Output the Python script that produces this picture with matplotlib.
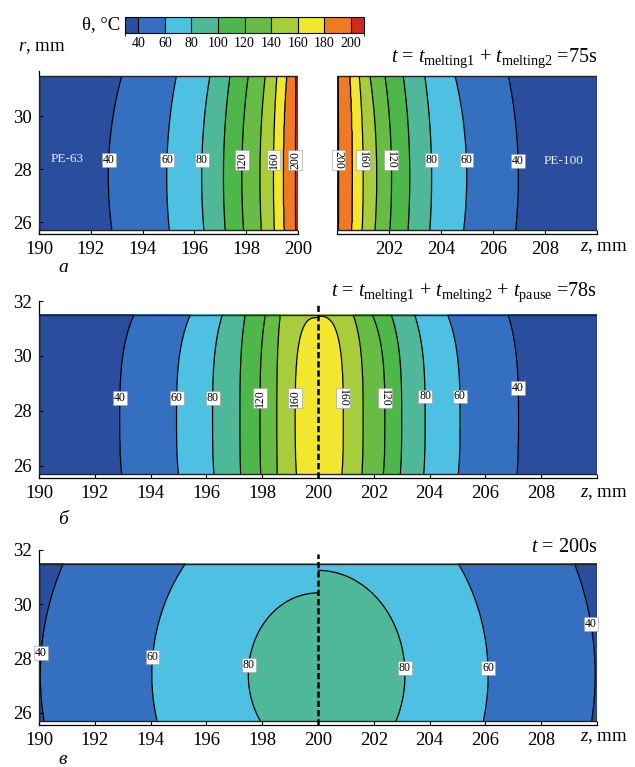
import numpy as np
import matplotlib.pyplot as plt
from matplotlib.colors import ListedColormap, BoundaryNorm
from matplotlib.patches import Rectangle
import matplotlib as mpl

plt.rcParams['font.family'] = ['Liberation Serif', 'DejaVu Serif']
plt.rcParams['mathtext.fontset'] = 'custom'
plt.rcParams['mathtext.rm'] = 'Liberation Serif'
plt.rcParams['mathtext.it'] = 'Liberation Serif:italic'

# isotherm levels (deg C) and fill colours of the bands between them
levels = [40, 60, 80, 100, 120, 140, 160, 180, 200]
band_edges = [0, 40, 60, 80, 100, 120, 140, 160, 180, 200, 400]
band_colors = ['#2b4d9e', '#3570c0', '#4ec0e2', '#4fb898', '#4db74a',
               '#66bc44', '#a8cd3c', '#f3e62e', '#ee7a23', '#cf2a1e']
cbar_edges = [30, 40, 60, 80, 100, 120, 140, 160, 180, 200, 210]

R_LO, R_HI = 25.7, 31.5   # pipe wall extent, mm
Z_WELD = 200.0            # weld plane, mm

# (a) t = 75 s : isotherm z at r0, and r where each isotherm would meet the weld plane
a_lv = [40, 60, 80, 100, 120, 140, 160, 180, 200]
a_left_z = [192.68, 194.93, 196.28, 197.12, 197.83, 198.53, 199.05, 199.43, 199.90]
a_left_apex = [38.0, 37.8, 37.1, 37.0, 35.9, 35.2, 35.2, 33.7, 34.0]
a_right_z = [206.97, 204.99, 203.64, 202.80, 202.10, 201.53, 201.01, 200.60, 200.06]
a_right_apex = [39.4, 36.9, 37.9, 36.9, 35.7, 34.5, 34.9, 34.6, 34.0]
a_r0, a_p = 27.7, 2.0

# (b) t = 78 s
b_lv = [40, 60, 80, 100, 120, 140, 160]
b_left_z = [192.90, 194.93, 196.22, 197.20, 197.92, 198.52, 199.18]
b_left_apex = [34.2, 33.6, 33.7, 34.3, 33.7, 33.9, 31.4]
b_right_z = [207.18, 205.09, 203.84, 203.00, 202.40, 201.62, 200.91]
b_right_apex = [34.9, 33.8, 33.6, 33.2, 32.6, 32.4, 31.45]
b_r0, b_p = 27.7, 3.0

# (c) t = 200 s
c_lv = [40, 60, 80]
c_left_z = [190.05, 194.04, 197.50]
c_left_apex = [37.7, 34.2, 30.42]
c_right_z = [209.93, 206.10, 203.12]
c_right_apex = [38.2, 34.65, 31.25]
c_r0, c_p = 27.4, 2.0

# contour labels: (level, r of label, side)
a_labels = [(40, 28.35, -1), (60, 28.35, -1), (80, 28.35, -1), (120, 28.35, -1),
            (160, 28.35, -1), (200, 28.35, -1),
            (200, 28.35, 1), (160, 28.35, 1), (120, 28.35, 1), (80, 28.35, 1),
            (60, 28.35, 1), (40, 28.3, 1)]
b_labels = [(40, 28.47, -1), (60, 28.47, -1), (80, 28.47, -1), (120, 28.47, -1),
            (160, 28.47, -1), (160, 28.47, 1), (120, 28.47, 1), (80, 28.52, 1),
            (60, 28.52, 1), (40, 28.84, 1)]
c_labels = [(40, 28.2, -1), (60, 28.07, -1), (80, 27.77, -1),
            (80, 27.64, 1), (60, 27.64, 1), (40, 29.26, 1)]
rotated = {120, 140, 160, 180, 200}


def iso_field(z, r, z_iso, r_apex, lv, r0, p):
    dz = np.abs(z - Z_WELD)
    dr = np.abs(r - r0)
    u = []
    for zk, ak in zip(z_iso, r_apex):
        u.append(((dz / abs(zk - Z_WELD)) ** p + (dr / (ak - r0)) ** p) ** (1.0 / p))
    T = lv[0] - 10.0 * (u[0] - 1.0)
    for k in range(len(lv) - 1):
        inside = (u[k] <= 1) & (u[k + 1] > 1)
        w = (1 - u[k]) / ((1 - u[k]) + (u[k + 1] - 1))
        T = np.where(inside, lv[k] + (lv[k + 1] - lv[k]) * w, T)
    T = np.where(u[-1] <= 1, lv[-1] + 19.0 * (1 - u[-1]), T)
    return T


def iso_z(level, r, z_iso, r_apex, lv, r0, p):
    k = lv.index(level)
    half_w = abs(z_iso[k] - Z_WELD)
    q = max(0.0, 1 - (abs(r - r0) / (r_apex[k] - r0)) ** p)
    return Z_WELD + np.sign(z_iso[k] - Z_WELD) * half_w * q ** (1.0 / p)


def draw_half(ax, side, z_iso, r_apex, lv, r0, p):
    z0, z1 = (190.0, Z_WELD) if side < 0 else (Z_WELD, 210.0)
    z = np.linspace(z0, z1, 500)
    r = np.linspace(R_LO, R_HI, 300)
    Z, R = np.meshgrid(z, r)
    T = iso_field(Z, R, z_iso, r_apex, lv, r0, p)
    ax.contourf(Z, R, T, levels=band_edges, colors=band_colors)
    ax.contour(Z, R, T, levels=levels, colors='k', linewidths=0.9)


def put_labels(ax, labels, halves, lv, r0, p):
    for level, r, side in labels:
        z_iso, r_apex = halves[side]
        z = iso_z(level, r, z_iso, r_apex, lv, r0, p)
        rot = 0
        if level in rotated:
            rot = 90 if side < 0 else -90
        ax.text(z, r, str(level), fontsize=8.5, ha='center', va='center', rotation=rot,
                bbox=dict(fc='white', ec='#999999', lw=0.4, pad=0.7))


def style_axes(ax, xlim, ylim, xticks, yticks, show_y=True):
    ax.set_xlim(*xlim)
    ax.set_ylim(*ylim)
    ax.set_xticks(xticks)
    ax.set_xticklabels([str(t) if t != 210 and not (not show_y and t == 200) else '' for t in xticks])
    for s in ['top', 'right']:
        ax.spines[s].set_visible(False)
    ax.spines['bottom'].set_linewidth(0.9)
    ax.spines['left'].set_linewidth(0.9)
    if show_y:
        ax.set_yticks(yticks)
    else:
        ax.spines['left'].set_visible(False)
        ax.set_yticks([])
    ax.tick_params(direction='in', length=3, labelsize=13.5, pad=5)
    ax.add_patch(Rectangle((max(xlim[0], 190), R_LO), xlim[1] - xlim[0], R_HI - R_LO,
                           fill=False, ec='#222222', lw=1.0, zorder=3))


W, H = 635, 767
fig = plt.figure(figsize=(W / 100, H / 100), dpi=100)


def add_ax(x0, x1, ytop, ybot):
    return fig.add_axes([x0 / W, 1 - ybot / H, (x1 - x0) / W, (ybot - ytop) / H])


# ---- panel a: two separate halves ----
axL = add_ax(39, 298, 71, 234)
draw_half(axL, -1, a_left_z, a_left_apex, a_lv, a_r0, a_p)
style_axes(axL, (190, 200), (25.55, 31.7), np.arange(190, 201, 2), [26, 28, 30])
put_labels(axL, [l for l in a_labels if l[2] < 0],
           {-1: (a_left_z, a_left_apex)}, a_lv, a_r0, a_p)
axL.text(191.1, 28.38, 'PE-63', color='#e8ecf5', fontsize=9.5, ha='center', va='center')

axR = add_ax(337, 597, 71, 234)
draw_half(axR, 1, a_right_z, a_right_apex, a_lv, a_r0, a_p)
style_axes(axR, (200, 210), (25.55, 31.7), np.arange(200, 211, 2), [], show_y=False)
put_labels(axR, [l for l in a_labels if l[2] > 0],
           {1: (a_right_z, a_right_apex)}, a_lv, a_r0, a_p)
axR.text(208.7, 28.3, 'PE-100', color='#e8ecf5', fontsize=9.5, ha='center', va='center')

# ---- panel b ----
axB = add_ax(39, 597, 301, 478)
draw_half(axB, -1, b_left_z, b_left_apex, b_lv, b_r0, b_p)
draw_half(axB, 1, b_right_z, b_right_apex, b_lv, b_r0, b_p)
style_axes(axB, (190, 210), (25.55, 32), np.arange(190, 211, 2), [26, 28, 30, 32])
axB.plot([Z_WELD, Z_WELD], [25.55, 31.85], color='k', lw=1.8, ls=(0, (2.5, 1.2)), zorder=4)
put_labels(axB, b_labels, {-1: (b_left_z, b_left_apex), 1: (b_right_z, b_right_apex)},
           b_lv, b_r0, b_p)

# ---- panel c ----
axC = add_ax(39, 597, 550, 725)
draw_half(axC, -1, c_left_z, c_left_apex, c_lv, c_r0, c_p)
draw_half(axC, 1, c_right_z, c_right_apex, c_lv, c_r0, c_p)
style_axes(axC, (190, 210), (25.55, 32), np.arange(190, 211, 2), [26, 28, 30, 32])
axC.plot([Z_WELD, Z_WELD], [25.55, 31.85], color='k', lw=1.8, ls=(0, (2.5, 1.2)), zorder=4)
put_labels(axC, c_labels, {-1: (c_left_z, c_left_apex), 1: (c_right_z, c_right_apex)},
           c_lv, c_r0, c_p)

# ---- colour bar ----
cax = fig.add_axes([125 / W, 1 - 33 / H, 239 / W, 16 / H])
cmap = ListedColormap(band_colors)
norm = BoundaryNorm(cbar_edges, cmap.N)
cb = mpl.colorbar.ColorbarBase(cax, cmap=cmap, norm=norm, boundaries=cbar_edges,
                               spacing='proportional', orientation='horizontal',
                               drawedges=True, ticks=levels)
cb.outline.set_linewidth(0.8)
cb.dividers.set_linewidth(0.8)
cax.tick_params(length=0, labelsize=10, pad=3)
fig.text(120 / W, 1 - 25 / H, r'θ, °C', fontsize=13.5, ha='right', va='center')

# ---- axis names, panel letters and times ----
fig.text(18 / W, 1 - 48 / H, r'$r$, mm', fontsize=13.5, ha='left', va='center')
for yy in (248, 493, 738):
    fig.text(580 / W, 1 - yy / H, r'$z$, mm', fontsize=13.5, ha='left', va='center')
for ch, yy in (('а', 268), ('б', 520), ('в', 760)):
    fig.text(63 / W, 1 - yy / H, ch, fontsize=14, style='italic', ha='center', va='center')

fig.text(597 / W, 1 - 58 / H,
         r'$t$ = $t_{\mathrm{melting1}}$ + $t_{\mathrm{melting2}}$ =75s',
         fontsize=14.5, ha='right', va='center')
fig.text(597 / W, 1 - 292 / H,
         r'$t$ = $t_{\mathrm{melting1}}$ + $t_{\mathrm{melting2}}$ + $t_{\mathrm{pause}}$ =78s',
         fontsize=14.5, ha='right', va='center')
fig.text(597 / W, 1 - 548 / H, r'$t$ = 200s', fontsize=14.5, ha='right', va='center')

fig.savefig('out.png', dpi=100)
